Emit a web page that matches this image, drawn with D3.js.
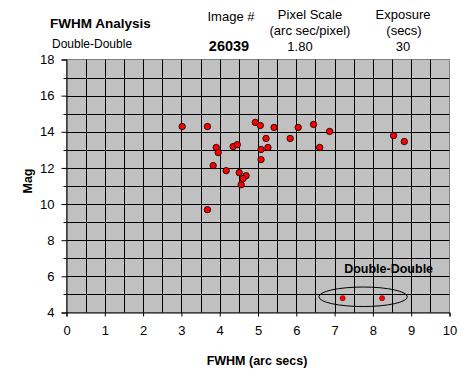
<!DOCTYPE html>
<html>
<head>
<meta charset="utf-8">
<script src="https://cdn.jsdelivr.net/npm/d3@7"></script>
<style>
  body { margin: 0; background: #fff; }
  svg { display: block; font-family: "Liberation Sans", Arial, sans-serif; }
</style>
</head>
<body>
<div id="chart"></div>
<script>
const fwhm = [3.02, 3.68, 4.93, 5.06, 5.42, 6.05, 6.45, 5.21, 5.84, 3.91, 3.96, 4.35, 4.46,
  5.08, 5.26, 6.87, 6.61, 5.08, 3.83, 4.17, 4.51, 4.69, 4.61, 4.56, 3.68, 8.54, 8.82];
const mag = [14.29, 14.29, 14.52, 14.35, 14.24, 14.24, 14.41, 13.63, 13.63, 13.13, 12.85, 13.18, 13.29,
  13.02, 13.13, 14.02, 13.13, 12.46, 12.13, 11.85, 11.74, 11.57, 11.41, 11.07, 9.69, 13.79, 13.46];

// the double-double pair
const doubleFwhm = [7.21, 8.24];
const doubleMag = [4.79, 4.79];
const doubleName = "Double-Double";

const xTicks = [0, 1, 2, 3, 4, 5, 6, 7, 8, 9, 10];
const yTicks = [4, 6, 8, 10, 12, 14, 16, 18];

const title = "FWHM Analysis";
const target = "Double-Double";
const imageNo = "26039";
const pixelScale = "1.80";
const exposure = "30";

const width = 470;
const height = 382;
const margin = { top: 59.5, right: 20.5, bottom: 69.5, left: 66.5 };

const svg = d3.select("#chart")
    .append("svg")
    .attr("width", width)
    .attr("height", height);

const x = d3.scaleLinear()
    .domain([0, 10])
    .range([margin.left, width - margin.right]);

const y = d3.scaleLinear()
    .domain([4, 18])
    .range([height - margin.bottom, margin.top]);

// plot area
svg.append("rect")
    .attr("x", x(0)).attr("y", y(18))
    .attr("width", x(10) - x(0)).attr("height", y(4) - y(18))
    .attr("fill", "#c0c0c0")
    .attr("stroke", "#808080");

// grid: vertical every 0.5, horizontal every 1
const grid = svg.append("g").attr("stroke", "#000").attr("stroke-width", 1);
d3.range(0.5, 10, 0.5).forEach(v => {
  grid.append("line")
      .attr("x1", Math.round(x(v)) + 0.5).attr("x2", Math.round(x(v)) + 0.5)
      .attr("y1", y(18)).attr("y2", y(4));
});
d3.range(5, 18, 1).forEach(v => {
  grid.append("line")
      .attr("x1", x(0)).attr("x2", x(10))
      .attr("y1", Math.round(y(v)) + 0.5).attr("y2", Math.round(y(v)) + 0.5);
});

// axes
svg.append("g")
    .attr("transform", `translate(0,${y(4)})`)
    .call(d3.axisBottom(x).tickValues(xTicks).tickSize(4).tickPadding(9))
    .call(g => g.select(".domain").attr("stroke", "#000"))
    .call(g => g.selectAll("text").attr("font-size", 13).attr("fill", "#000")
        .attr("font-family", "Liberation Sans, Arial, sans-serif"));

svg.append("g")
    .attr("transform", `translate(${x(0)},0)`)
    .call(d3.axisLeft(y).tickValues(yTicks).tickSize(5).tickPadding(7))
    .call(g => g.select(".domain").attr("stroke", "#000"))
    .call(g => g.selectAll("text").attr("font-size", 13).attr("fill", "#000")
        .attr("font-family", "Liberation Sans, Arial, sans-serif"));

// minor y ticks
svg.append("g")
    .selectAll("line")
    .data([5, 7, 9, 11, 13, 15, 17])
    .join("line")
    .attr("x1", x(0) - 3).attr("x2", x(0))
    .attr("y1", d => Math.round(y(d)) + 0.5).attr("y2", d => Math.round(y(d)) + 0.5)
    .attr("stroke", "#000");

// axis titles
svg.append("text")
    .attr("x", (x(0) + x(10)) / 2 - 1)
    .attr("y", 365)
    .attr("text-anchor", "middle")
    .attr("font-size", 12.5)
    .attr("font-weight", "bold")
    .text("FWHM (arc secs)");

svg.append("text")
    .attr("transform", "translate(32,181) rotate(-90)")
    .attr("text-anchor", "middle")
    .attr("font-size", 12.5)
    .attr("font-weight", "bold")
    .text("Mag");

// stars
svg.append("g")
    .selectAll("circle")
    .data(fwhm.map((f, i) => ({ f, m: mag[i] })))
    .join("circle")
    .attr("cx", d => x(d.f))
    .attr("cy", d => y(d.m))
    .attr("r", 3.2)
    .attr("fill", "#ff0000")
    .attr("stroke", "#000")
    .attr("stroke-width", 0.8);

// double-double marker ellipse, padded around the pair
const cx = d3.mean(doubleFwhm);
const cy = d3.mean(doubleMag);
svg.append("ellipse")
    .attr("cx", x(cx + 0.02))
    .attr("cy", y(cy + 0.08))
    .attr("rx", x(d3.max(doubleFwhm) + 0.64) - x(cx))
    .attr("ry", y(cy - 0.54) - y(cy))
    .attr("fill", "none")
    .attr("stroke", "#000")
    .attr("stroke-width", 1);

svg.append("g")
    .selectAll("circle")
    .data(doubleFwhm.map((f, i) => ({ f, m: doubleMag[i] })))
    .join("circle")
    .attr("cx", d => x(d.f))
    .attr("cy", d => y(d.m))
    .attr("r", 2.6)
    .attr("fill", "#ff0000")
    .attr("stroke", "#600")
    .attr("stroke-width", 0.5);

svg.append("text")
    .attr("x", x(7.25))
    .attr("y", 273)
    .attr("font-size", 12.5)
    .attr("font-weight", "bold")
    .text(doubleName);

// header
const head = svg.append("g").attr("fill", "#000");
head.append("text").attr("x", 50).attr("y", 28)
    .attr("font-size", 13.5).attr("font-weight", "bold").text(title);
head.append("text").attr("x", 52).attr("y", 48)
    .attr("font-size", 12).text(target);
head.append("text").attr("x", 231).attr("y", 21).attr("text-anchor", "middle")
    .attr("font-size", 13).text("Image #");
head.append("text").attr("x", 229).attr("y", 51).attr("text-anchor", "middle")
    .attr("font-size", 14.5).attr("font-weight", "bold").text(imageNo);
head.append("text").attr("x", 310).attr("y", 19).attr("text-anchor", "middle")
    .attr("font-size", 13).text("Pixel Scale");
head.append("text").attr("x", 310).attr("y", 35).attr("text-anchor", "middle")
    .attr("font-size", 13).text("(arc sec/pixel)");
head.append("text").attr("x", 300).attr("y", 51).attr("text-anchor", "middle")
    .attr("font-size", 13).text(pixelScale);
head.append("text").attr("x", 403).attr("y", 19).attr("text-anchor", "middle")
    .attr("font-size", 13).text("Exposure");
head.append("text").attr("x", 404).attr("y", 35).attr("text-anchor", "middle")
    .attr("font-size", 13).text("(secs)");
head.append("text").attr("x", 403).attr("y", 51).attr("text-anchor", "middle")
    .attr("font-size", 13).text(exposure);
</script>
</body>
</html>
